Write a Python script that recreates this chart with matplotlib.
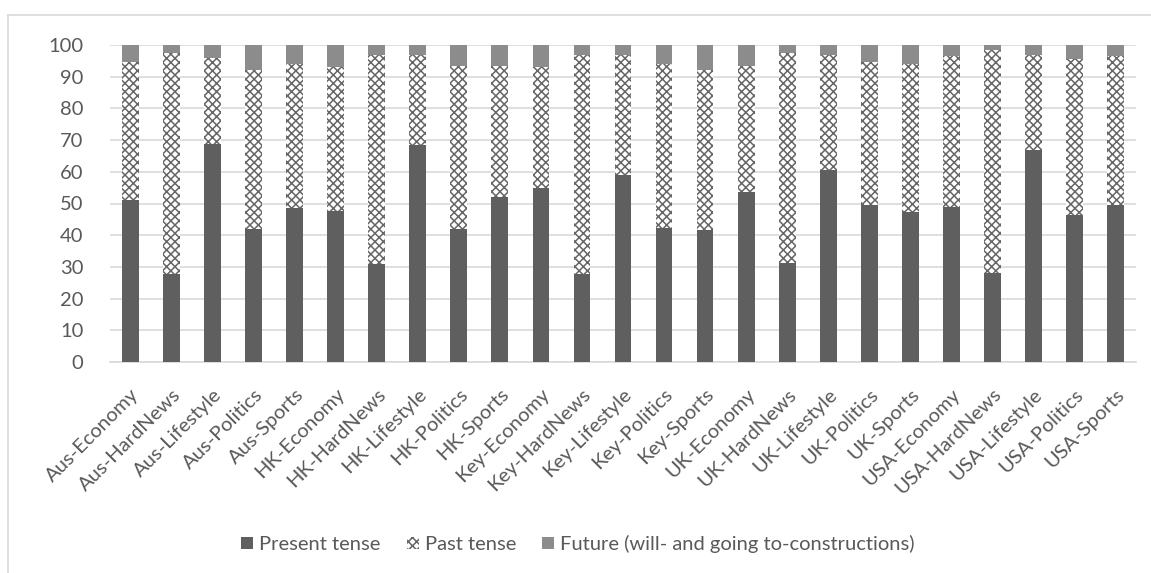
import matplotlib
matplotlib.use("Agg")
import matplotlib.pyplot as plt
import numpy as np
from matplotlib.patches import Rectangle
from matplotlib.lines import Line2D

plt.rcParams['font.family'] = ['Lato', 'DejaVu Sans']
plt.rcParams['hatch.linewidth'] = 1.1

categories = ["Aus-Economy", "Aus-HardNews", "Aus-Lifestyle", "Aus-Politics", "Aus-Sports",
              "HK-Economy", "HK-HardNews", "HK-Lifestyle", "HK-Politics", "HK-Sports",
              "Key-Economy", "Key-HardNews", "Key-Lifestyle", "Key-Politics", "Key-Sports",
              "UK-Economy", "UK-HardNews", "UK-Lifestyle", "UK-Politics", "UK-Sports",
              "USA-Economy", "USA-HardNews", "USA-Lifestyle", "USA-Politics", "USA-Sports"]
present = [51.0, 27.7, 68.8, 42.0, 48.5,
           47.5, 31.0, 68.3, 42.0, 52.0,
           55.0, 27.8, 59.0, 42.2, 41.5,
           53.5, 31.2, 60.7, 49.5, 47.2,
           49.0, 28.0, 66.8, 46.5, 49.5]
past = [43.5, 69.8, 27.2, 50.0, 45.5,
        45.5, 66.0, 28.4, 51.5, 41.5,
        38.0, 69.2, 38.0, 51.8, 50.5,
        40.0, 66.3, 36.3, 45.0, 46.8,
        47.5, 70.5, 30.2, 49.0, 47.0]
future = [100 - a - b for a, b in zip(present, past)]
series_names = ["Present tense", "Past tense", "Future (will- and going to-constructions)"]

c_present = '#5f5f5f'
c_future = '#8c8c8c'
c_text = '#595959'
c_grid = '#d9d9d9'
fs = 14.5

fig = plt.figure(figsize=(11.51, 5.73), dpi=100)
ax = fig.add_axes([110/1151, 1 - 362/573, (1136-110)/1151, (362-45)/573])

x = np.arange(len(categories))
w = 0.41
ax.bar(x, present, w, color=c_present, zorder=3)
ax.bar(x, past, w, bottom=present, color='white', edgecolor='#666666',
       hatch='xxxx', linewidth=0, zorder=3)
bottoms2 = [a + b for a, b in zip(present, past)]
ax.bar(x, future, w, bottom=bottoms2, color=c_future, zorder=3)

ax.set_xlim(-0.5, len(categories) - 0.5)
ax.set_ylim(0, 100)
ax.set_yticks(range(0, 101, 10))
ax.yaxis.grid(True, color=c_grid, linewidth=1.2, zorder=0)
for s in ['top', 'right', 'left']:
    ax.spines[s].set_visible(False)
ax.spines['bottom'].set_color(c_grid)
ax.spines['bottom'].set_linewidth(1.2)
ax.tick_params(axis='both', length=0, colors=c_text, labelsize=fs)
ax.tick_params(axis='y', pad=19)
ax.set_xticks(x)
ax.set_xticklabels(categories, rotation=45, ha='right', rotation_mode='anchor')
ax.tick_params(axis='x', pad=17)

handles = [Rectangle((0, 0), 1, 1, facecolor=c_present),
           Rectangle((0, 0), 1, 1, facecolor='white', edgecolor='#666666', hatch='xxxx', linewidth=0),
           Rectangle((0, 0), 1, 1, facecolor=c_future)]
fig.legend(handles, series_names, loc='center', bbox_to_anchor=(578/1151, 1 - 544/573),
           ncol=3, frameon=False, fontsize=fs, labelcolor=c_text,
           handlelength=0.6, handleheight=0.6, handletextpad=0.3, columnspacing=1.3)

# chart border
fig.add_artist(Line2D([8/1151, 1.0], [1 - 15/573, 1 - 15/573], color=c_grid, linewidth=1.2))
fig.add_artist(Line2D([8/1151, 8/1151], [0, 1 - 15/573], color=c_grid, linewidth=1.2))

fig.savefig('out.png', dpi=100, facecolor='white')
